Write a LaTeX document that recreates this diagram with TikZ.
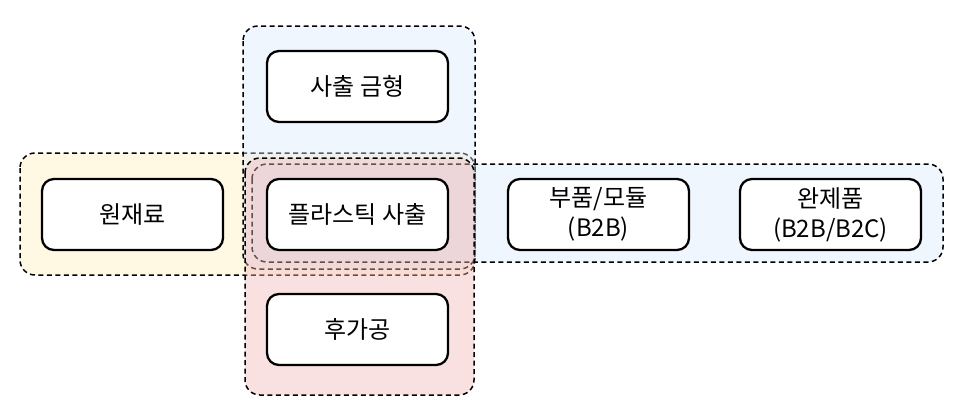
\documentclass[tikz,border=0pt]{standalone}
\usepackage{fontspec}
\setmainfont{Noto Sans CJK KR}
\definecolor{ylw}{HTML}{FFF2CC}
\definecolor{blu}{HTML}{DAE8FC}
\definecolor{rd}{HTML}{F4B8B8}
\begin{document}
\begin{tikzpicture}[x=1pt,y=-1pt,
  grp/.style={draw=black, line width=1.5pt, dash pattern=on 5pt off 3.5pt, rounded corners=15pt},
  box/.style={draw=black, fill=white, line width=2.3pt, rounded corners=12pt,
    minimum width=181pt, minimum height=71pt, align=center, inner sep=0pt,
    font=\fontsize{24}{30}\selectfont}]
\useasboundingbox (0,0) rectangle (963,418);
% groups
\draw[grp, fill=ylw, fill opacity=0.55] (20,153) rectangle (475,275);
\draw[grp, fill=blu, fill opacity=0.4] (243,26) rectangle (475,269);
\draw[grp, fill=blu, fill opacity=0.4] (252,164) rectangle (943,262);
\draw[grp, fill=rd, fill opacity=0.42] (245,158) rectangle (474,395);
% nodes
\node[box] (mold) at (357.5,86.5) {사출 금형};
\node[box] (raw) at (132.5,214.5) {원재료};
\node[box] (inj) at (357.5,214.5) {플라스틱 사출};
\node[box] (part) at (598.5,214.5) {부품/모듈\\(B2B)};
\node[box] (prod) at (830.5,214.5) {완제품\\(B2B/B2C)};
\node[box] (post) at (357.5,329.5) {후가공};
\end{tikzpicture}
\end{document}
